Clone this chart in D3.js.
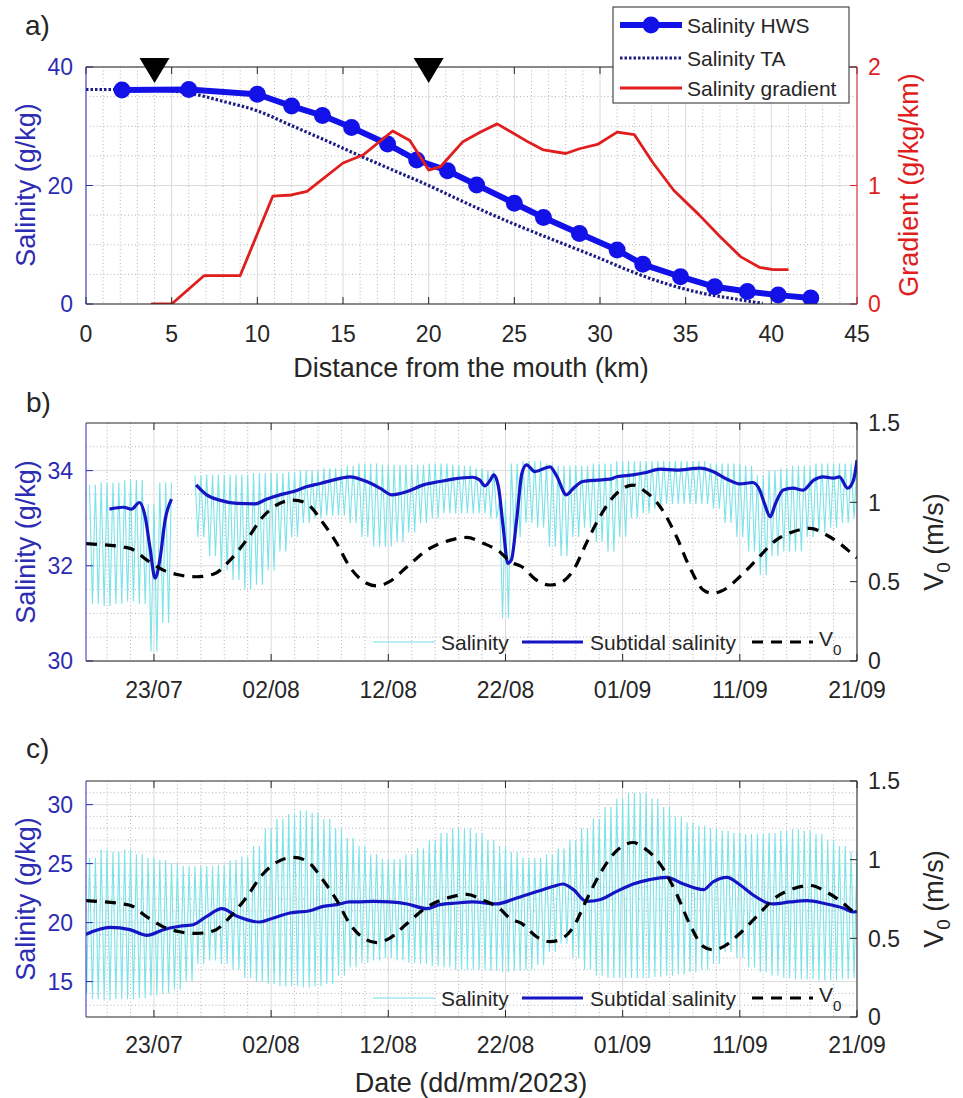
<!DOCTYPE html>
<html><head><meta charset="utf-8">
<script src="https://cdn.jsdelivr.net/npm/d3@7"></script>
<style>
body{margin:0;background:#fff;}
svg text{font-family:"Liberation Sans", Arial, Helvetica, sans-serif;}
</style></head><body>
<svg id="fig" width="963" height="1098"></svg>
<script>
// ---------------- DATA ----------------
// Panel a: along-estuary profiles
const hwsKm  = [2.1, 6.0, 10.0, 12.0, 13.8, 15.5, 17.6, 19.3, 21.1, 22.8, 25.0, 26.7, 28.8, 31.0, 32.5, 34.7, 36.7, 38.6, 40.4, 42.3];
const hwsSal = [36.1, 36.2, 35.4, 33.4, 31.8, 29.8, 27.0, 24.3, 22.5, 20.1, 17.0, 14.6, 11.9, 9.1, 6.7, 4.6, 2.9, 2.1, 1.5, 1.0];
const taKm   = [0, 2, 4, 6, 8, 10, 12, 14, 16, 18, 20, 22, 24, 26, 28, 30, 32, 34, 36, 38, 39.5];
const taSal  = [36.2, 36.2, 36.1, 35.6, 34.2, 32.6, 30.1, 27.6, 25.0, 22.5, 20.0, 17.3, 14.7, 12.3, 10.0, 7.7, 5.3, 3.3, 1.8, 0.8, 0.1];
const gradKm  = [3.8, 5.0, 6.9, 9.0, 10.9, 12.0, 12.9, 15.0, 16.2, 17.9, 18.9, 20.0, 20.7, 22.0, 23.0, 24.0, 25.9, 26.7, 28.0, 28.8, 29.9, 31.0, 32.0, 33.1, 34.3, 35.8, 37.0, 38.2, 39.3, 40.1, 41.0];
const gradVal = [0, 0, 0.24, 0.24, 0.91, 0.92, 0.95, 1.19, 1.26, 1.46, 1.38, 1.13, 1.16, 1.37, 1.45, 1.52, 1.36, 1.30, 1.27, 1.31, 1.35, 1.45, 1.43, 1.19, 0.96, 0.75, 0.57, 0.40, 0.31, 0.29, 0.29];
const markerKm  = [4, 20];
const markerSal = [39.5, 39.5];
const kmTicks = [0, 5, 10, 15, 20, 25, 30, 35, 40, 45];
const salTicksA = [0, 20, 40];
const gradTicks = [0, 1, 2];

// Time axis: day numbers counted from 1 July 2023 (23 = 23/07, 33 = 02/08, 83 = 21/09)
const dateTickLabels = ["23/07", "02/08", "12/08", "22/08", "01/09", "11/09", "21/09"];
const v0Ticks = [0, 0.5, 1, 1.5];
const v0TickLabels = ["0", "0.5", "1", "1.5"];
const salTicksB = [30, 32, 34];
const salTicksC = [15, 20, 25, 30];

// V0 (same forcing in b and c)
const v0T = [17.2, 17.8, 20.95, 22.4, 23.8, 25.2, 26.6, 28.1, 29.5, 30.9, 32.3, 33.75, 34.9, 36.0, 37.45, 38.6, 39.7, 41.15, 42.0, 43.1, 44.6, 46.3, 48.3, 49.7, 51.1, 52.5, 53.4, 54.4, 55.65, 56.8, 57.6, 58.8, 59.9, 61.05, 62.5, 63.9, 64.75, 66.2, 67.6, 68.7, 69.9, 70.7, 71.6, 73.0, 74.4, 76.1, 77.55, 79.0, 80.4, 81.5, 82.7, 83.0];
const v0V = [0.74, 0.737, 0.71, 0.636, 0.573, 0.542, 0.531, 0.548, 0.636, 0.762, 0.909, 0.994, 1.014, 0.994, 0.868, 0.742, 0.594, 0.49, 0.473, 0.50, 0.594, 0.699, 0.762, 0.779, 0.742, 0.689, 0.626, 0.594, 0.51, 0.479, 0.49, 0.573, 0.742, 0.909, 1.057, 1.109, 1.078, 0.972, 0.783, 0.594, 0.447, 0.427, 0.447, 0.531, 0.636, 0.762, 0.815, 0.836, 0.794, 0.742, 0.668, 0.65];

// Panel b: subtidal salinity (null = data gap)
const subBT = [19.2, 20.4, 21.1, 21.75, 22.25, 22.65, 23.1, 23.5, 23.95, 24.5, 25.5, 26.6, 27.5, 28.6, 30.1, 31.6, 32.6, 33.75, 34.9, 36.0, 37.2, 38.6, 39.7, 41.15, 42.3, 43.3, 44.6, 46.0, 47.4, 48.5, 50.2, 50.8, 51.25, 51.7, 52.0, 52.4, 52.8, 53.2, 53.5, 53.95, 54.4, 54.8, 55.5, 56.8, 57.4, 58.2, 58.8, 59.6, 60.8, 61.9, 62.5, 63.9, 65.0, 66.2, 67.6, 69.6, 70.7, 71.9, 73.0, 74.1, 74.7, 75.1, 75.6, 76.0, 76.7, 77.55, 78.4, 79.3, 80.1, 81.0, 81.5, 82.2, 82.7, 83.0];
const subBS = [33.19, 33.23, 33.19, 33.33, 33.03, 32.4, 31.74, 32.12, 32.96, 33.4, null, 33.70, 33.49, 33.38, 33.31, 33.30, 33.40, 33.49, 33.56, 33.66, 33.73, 33.82, 33.87, 33.77, 33.63, 33.49, 33.56, 33.70, 33.77, 33.82, 33.86, 33.80, 33.68, 33.80, 33.91, 33.66, 32.82, 32.05, 32.12, 32.96, 33.94, 34.12, 33.98, 34.08, 33.87, 33.49, 33.63, 33.77, 33.80, 33.82, 33.87, 33.91, 33.96, 34.03, 34.01, 34.05, 33.98, 33.82, 33.72, 33.75, 33.59, 33.31, 33.03, 33.28, 33.59, 33.63, 33.59, 33.80, 33.87, 33.84, 33.87, 33.63, 33.80, 34.22];

// Tidal salinity envelopes, one high/low pair per day (null = no data)
const tideDays = [17,18,19,20,21,22,23,24,25,26,27,28,29,30,31,32,33,34,35,36,37,38,39,40,41,42,43,44,45,46,47,48,49,50,51,52,53,54,55,56,57,58,59,60,61,62,63,64,65,66,67,68,69,70,71,72,73,74,75,76,77,78,79,80,81,82,83];
const tideHiB = [null,33.70,33.75,33.75,33.80,33.80,33.3,33.75,null,null,33.90,33.92,33.92,33.92,33.92,33.95,33.95,33.95,33.97,34.0,34.0,34.05,34.05,34.1,34.15,34.15,34.12,34.12,34.12,34.12,34.15,34.15,34.12,34.1,34.05,34.0,33.4,34.15,34.2,34.2,34.15,34.1,34.1,34.1,34.15,34.15,34.2,34.2,34.2,34.2,34.2,34.2,34.2,34.2,34.15,34.15,34.15,34.1,33.9,34.0,34.05,34.1,34.1,34.15,34.15,34.15,34.15];
const tideLoB = [null,31.2,31.15,31.2,31.25,31.2,30.2,30.8,null,null,32.6,32.2,31.9,31.7,31.5,31.6,31.9,32.3,32.6,32.9,33.0,33.05,33.05,32.9,32.6,32.4,32.4,32.5,32.7,32.9,33.0,33.1,33.1,33.1,33.1,33.0,30.9,32.6,32.9,32.8,32.4,32.2,32.6,32.8,32.5,32.3,32.6,33.0,33.1,33.2,33.3,33.3,33.3,33.3,33.2,32.9,32.6,32.3,31.8,32.2,32.3,32.3,32.6,32.7,32.8,32.9,33.0];
const tideHiC = [24.0,25.5,26.2,26.0,26.2,25.8,25.5,25.3,25.0,24.8,24.8,24.8,24.9,25.3,25.6,26.5,28.0,28.8,29.2,29.5,29.3,28.8,28.0,27.2,26.5,25.8,25.4,25.4,25.8,26.3,27.0,27.6,28.0,28.0,27.6,27.0,26.5,26.0,25.5,25.5,25.8,26.3,27.0,28.0,28.8,29.8,30.5,31.0,31.0,30.5,29.8,29.0,28.5,28.2,28.0,27.8,27.6,27.5,27.5,27.6,27.8,27.9,27.8,27.5,27.0,26.5,26.0];
const tideLoC = [14.0,13.5,13.4,13.5,13.5,13.6,13.8,14.0,14.3,15.0,16.5,16.8,16.5,16.0,15.3,15.0,14.8,14.6,14.6,14.5,14.6,14.8,15.5,16.2,16.6,16.8,17.0,16.8,16.6,16.5,16.3,16.2,16.0,16.0,16.0,15.9,15.8,15.9,16.0,16.4,17.5,18.2,17.0,16.0,15.5,15.3,15.3,15.3,15.3,15.4,15.5,15.6,15.8,16.0,16.5,17.5,17.0,16.2,15.8,15.5,15.3,15.2,15.2,15.1,15.1,15.2,15.3];

// Panel c: subtidal salinity
const subCT = [17.1, 19.25, 20.95, 22.4, 23.8, 25.2, 26.35, 27.5, 28.8, 30.1, 32.0, 33.2, 34.6, 36.3, 37.45, 38.6, 39.7, 40.3, 41.7, 43.1, 44.6, 46.3, 47.4, 48.8, 50.2, 52.2, 53.95, 55.9, 57.1, 57.9, 58.8, 59.9, 61.05, 62.5, 63.9, 65.3, 66.75, 68.2, 69.9, 70.7, 71.9, 73.0, 74.1, 75.8, 77.3, 78.7, 80.4, 81.8, 82.7, 83.0];
const subCS = [18.97, 19.6, 19.4, 18.92, 19.4, 19.69, 19.82, 20.53, 21.18, 20.53, 20.05, 20.39, 20.81, 21.0, 21.38, 21.52, 21.75, 21.75, 21.8, 21.75, 21.58, 21.18, 21.52, 21.66, 21.75, 21.58, 22.08, 22.7, 23.08, 23.27, 22.79, 21.8, 21.94, 22.65, 23.27, 23.64, 23.84, 23.27, 22.79, 23.44, 23.84, 23.21, 22.36, 21.58, 21.75, 21.86, 21.58, 21.24, 20.9, 20.96];

// ---------------- DRAWING ----------------
const svg = d3.select("#fig");
const L = 86, R = 857;
const DARK = "#262626", LBLUE = "#2d2db4", RED = "#e01e1e";
const HWSC = "#1212e8", SUBC = "#1515c4", CYAN = "#7be3e9", NAVY = "#1c1c85";
const TICKF = 23, LABF = 27, LEGF = 21;

function grid(g, xs, ys, xMaj, xMin, yMaj, yMin, x0, x1, y0, y1) {
  g.selectAll(null).data(xMin).join("line").attr("x1", xs).attr("x2", xs).attr("y1", y0).attr("y2", y1)
    .attr("stroke", "#b4b4b4").attr("stroke-width", 1).attr("stroke-dasharray", "1,2.5");
  g.selectAll(null).data(yMin).join("line").attr("y1", ys).attr("y2", ys).attr("x1", x0).attr("x2", x1)
    .attr("stroke", "#b4b4b4").attr("stroke-width", 1).attr("stroke-dasharray", "1,2.5");
  g.selectAll(null).data(xMaj).join("line").attr("x1", xs).attr("x2", xs).attr("y1", y0).attr("y2", y1)
    .attr("stroke", "#dadada").attr("stroke-width", 1);
  g.selectAll(null).data(yMaj).join("line").attr("y1", ys).attr("y2", ys).attr("x1", x0).attr("x2", x1)
    .attr("stroke", "#dadada").attr("stroke-width", 1);
}

function clip(id, y0, y1) {
  svg.append("clipPath").attr("id", id).append("rect").attr("x", L).attr("y", y0).attr("width", R - L).attr("height", y1 - y0);
  return "url(#" + id + ")";
}

function frame(g, xs, xTicks, xLabels, yL, yLTicks, yLLabels, yR, yRTicks, yRLabels, top, bot, colL, colR, xLabY) {
  const TL = 7;
  xTicks.forEach((v) => {
    const x = xs(v);
    g.append("line").attr("x1", x).attr("x2", x).attr("y1", bot).attr("y2", bot - TL).attr("stroke", DARK);
    g.append("line").attr("x1", x).attr("x2", x).attr("y1", top).attr("y2", top + TL).attr("stroke", DARK);
  });
  xTicks.forEach((v, i) => {
    g.append("text").attr("x", xs(v)).attr("y", xLabY).attr("text-anchor", "middle")
      .attr("font-size", TICKF).attr("fill", DARK).text(xLabels[i]);
  });
  yLTicks.forEach((v, i) => {
    const y = yL(v);
    g.append("line").attr("x1", L).attr("x2", L + TL).attr("y1", y).attr("y2", y).attr("stroke", colL);
    g.append("text").attr("x", 73).attr("y", y).attr("dy", "0.36em").attr("text-anchor", "end")
      .attr("font-size", TICKF).attr("fill", colL).text(yLLabels[i]);
  });
  yRTicks.forEach((v, i) => {
    const y = yR(v);
    g.append("line").attr("x1", R).attr("x2", R - TL).attr("y1", y).attr("y2", y).attr("stroke", colR);
    g.append("text").attr("x", 868).attr("y", y).attr("dy", "0.36em").attr("text-anchor", "start")
      .attr("font-size", TICKF).attr("fill", colR).text(yRLabels[i]);
  });
  g.append("line").attr("x1", L).attr("x2", R).attr("y1", top).attr("y2", top).attr("stroke", DARK);
  g.append("line").attr("x1", L).attr("x2", R).attr("y1", bot).attr("y2", bot).attr("stroke", DARK);
  g.append("line").attr("x1", L).attr("x2", L).attr("y1", top).attr("y2", bot).attr("stroke", colL);
  g.append("line").attr("x1", R).attr("x2", R).attr("y1", top).attr("y2", bot).attr("stroke", colR);
}

function vlabel(g, x, y, col, parts) {
  const t = g.append("text").attr("transform", `translate(${x},${y}) rotate(-90)`)
    .attr("text-anchor", "middle").attr("dy", "0.36em").attr("font-size", LABF).attr("fill", col);
  parts.forEach(p => {
    const s = t.append("tspan").text(p.t);
    if (p.sub) s.attr("font-size", LABF * 0.7).attr("dy", 7);
    if (p.after) s.attr("dy", -7);
  });
}

// ========== Panel a ==========
const gA = svg.append("g");
const TA = 67, BA = 304;
const xA = d3.scaleLinear().domain([0, 45]).range([L, R]);
const yA = d3.scaleLinear().domain([0, 40]).range([BA, TA]);
const yA2 = d3.scaleLinear().domain([0, 2]).range([BA, TA]);
grid(gA, xA, yA, kmTicks, d3.range(1, 45).filter(v => v % 5 !== 0), salTicksA, [5, 10, 15, 25, 30, 35], L, R, TA, BA);
const cA = clip("cA", TA - 20, BA);
const pA = gA.append("g").attr("clip-path", cA);
pA.append("path").datum(taKm.map((k, i) => [k, taSal[i]]))
  .attr("d", d3.line().x(d => xA(d[0])).y(d => yA(d[1])).curve(d3.curveMonotoneX))
  .attr("fill", "none").attr("stroke", NAVY).attr("stroke-width", 3.2).attr("stroke-dasharray", "2.5,2");
pA.append("path").datum(hwsKm.map((k, i) => [k, hwsSal[i]]))
  .attr("d", d3.line().x(d => xA(d[0])).y(d => yA(d[1])))
  .attr("fill", "none").attr("stroke", HWSC).attr("stroke-width", 6).attr("stroke-linejoin", "round");
pA.selectAll(null).data(hwsKm).join("circle").attr("cx", d => xA(d)).attr("cy", (d, i) => yA(hwsSal[i]))
  .attr("r", 8.5).attr("fill", HWSC);
pA.append("path").datum(gradKm.map((k, i) => [k, gradVal[i]]))
  .attr("d", d3.line().x(d => xA(d[0])).y(d => yA2(d[1])))
  .attr("fill", "none").attr("stroke", RED).attr("stroke-width", 2.8).attr("stroke-linejoin", "round");
frame(gA, xA, kmTicks, kmTicks.map(String), yA, salTicksA, salTicksA.map(String), yA2, gradTicks, gradTicks.map(String), TA, BA, LBLUE, RED, 342);
gA.selectAll(null).data(markerKm).join("path")
  .attr("d", (d, i) => { const x = xA(d), y = yA(markerSal[i]); return `M${x - 15},${y - 12}L${x + 15},${y - 12}L${x},${y + 13}Z`; })
  .attr("fill", "#000");
gA.append("text").attr("x", 471).attr("y", 377).attr("text-anchor", "middle").attr("font-size", LABF).attr("fill", DARK)
  .text("Distance from the mouth (km)");
vlabel(gA, 25, 185, LBLUE, [{ t: "Salinity (g/kg)" }]);
vlabel(gA, 908, 185, RED, [{ t: "Gradient (g/kg/km)" }]);
// legend a
const lg = gA.append("g");
lg.append("rect").attr("x", 613).attr("y", 7).attr("width", 236).attr("height", 96).attr("fill", "#fff").attr("stroke", DARK);
const rows = [25, 58, 88];
lg.append("line").attr("x1", 620).attr("x2", 682).attr("y1", rows[0]).attr("y2", rows[0]).attr("stroke", HWSC).attr("stroke-width", 6);
lg.append("circle").attr("cx", 651).attr("cy", rows[0]).attr("r", 8.5).attr("fill", HWSC);
lg.append("line").attr("x1", 620).attr("x2", 682).attr("y1", rows[1]).attr("y2", rows[1]).attr("stroke", NAVY).attr("stroke-width", 3.2).attr("stroke-dasharray", "2.5,2");
lg.append("line").attr("x1", 620).attr("x2", 682).attr("y1", rows[2]).attr("y2", rows[2]).attr("stroke", RED).attr("stroke-width", 2.8);
["Salinity HWS", "Salinity TA", "Salinity gradient"].forEach((s, i) =>
  lg.append("text").attr("x", 687).attr("y", rows[i]).attr("dy", "0.36em").attr("font-size", LEGF).attr("fill", DARK).text(s));
svg.append("text").attr("x", 25).attr("y", 35).attr("font-size", 28).attr("fill", DARK).text("a)");

// ========== Panels b & c ==========
const toDate = t => new Date(Date.UTC(2023, 6, 1) + (t - 1) * 864e5);
const parseTick = d3.utcParse("%d/%m/%Y");
const tickDates = dateTickLabels.map(s => parseTick(s + "/2023"));
const minorDates = d3.range(19, 83, 2).filter(t => (t - 23) % 10 !== 0).map(toDate);

function tidePts(hi, lo) {
  const pts = [];
  tideDays.forEach((d, i) => {
    if (hi[i] == null) { pts.push(null); return; }
    pts.push([d - 0.5, hi[i]], [d - 0.25, lo[i]], [d, hi[i]], [d + 0.25, lo[i]]);
    if (i === tideDays.length - 1 || hi[i + 1] == null) pts.push([d + 0.5, hi[i]]);
  });
  return pts;
}

function timePanel(top, bot, yDom, yTicks, yMinor, subT, subS, hi, lo, label, labelY, legY, xLabY, id) {
  const g = svg.append("g");
  const x = d3.scaleUtc().domain([toDate(17.2), toDate(83)]).range([L, R]);
  const y = d3.scaleLinear().domain(yDom).range([bot, top]);
  const y2 = d3.scaleLinear().domain([0, 1.5]).range([bot, top]);
  grid(g, x, y, tickDates, minorDates, yTicks, yMinor, L, R, top, bot);
  const p = g.append("g").attr("clip-path", clip(id, top, bot));
  p.append("path").datum(tidePts(hi, lo))
    .attr("d", d3.line().defined(d => d != null).x(d => x(toDate(d[0]))).y(d => y(d[1])))
    .attr("fill", "none").attr("stroke", CYAN).attr("stroke-width", 1.1);
  p.append("path").datum(subT.map((t, i) => [t, subS[i]]))
    .attr("d", d3.line().defined(d => d[1] != null).x(d => x(toDate(d[0]))).y(d => y(d[1])).curve(d3.curveMonotoneX))
    .attr("fill", "none").attr("stroke", SUBC).attr("stroke-width", 3.2).attr("stroke-linejoin", "round");
  p.append("path").datum(v0T.map((t, i) => [t, v0V[i]]))
    .attr("d", d3.line().x(d => x(toDate(d[0]))).y(d => y2(d[1])).curve(d3.curveMonotoneX))
    .attr("fill", "none").attr("stroke", "#000").attr("stroke-width", 3.2).attr("stroke-dasharray", "11,8");
  // legend (no box)
  g.append("line").attr("x1", 373).attr("x2", 435).attr("y1", legY).attr("y2", legY).attr("stroke", "#9fe9ec").attr("stroke-width", 1.5);
  g.append("text").attr("x", 441).attr("y", legY).attr("dy", "0.36em").attr("font-size", LEGF).attr("fill", DARK).text("Salinity");
  g.append("line").attr("x1", 522).attr("x2", 583).attr("y1", legY).attr("y2", legY).attr("stroke", SUBC).attr("stroke-width", 3.2);
  g.append("text").attr("x", 590).attr("y", legY).attr("dy", "0.36em").attr("font-size", LEGF).attr("fill", DARK).text("Subtidal salinity");
  g.append("line").attr("x1", 752).attr("x2", 813).attr("y1", legY).attr("y2", legY).attr("stroke", "#000").attr("stroke-width", 3.2).attr("stroke-dasharray", "11,8");
  const vt = g.append("text").attr("x", 819).attr("y", legY).attr("dy", "0.2em").attr("font-size", LEGF).attr("fill", DARK);
  vt.append("tspan").text("V");
  vt.append("tspan").attr("font-size", LEGF * 0.72).attr("dy", 9).text("0");
  frame(g, x, tickDates, dateTickLabels, y, yTicks, yTicks.map(String), y2, v0Ticks, v0TickLabels, top, bot, LBLUE, DARK, xLabY);
  vlabel(g, 25, (top + bot) / 2, LBLUE, [{ t: "Salinity (g/kg)" }]);
  vlabel(g, 933, (top + bot) / 2, DARK, [{ t: "V" }, { t: "0", sub: true }, { t: " (m/s)", after: true }]);
  svg.append("text").attr("x", 26).attr("y", labelY).attr("font-size", 28).attr("fill", DARK).text(label);
}

timePanel(423, 661, [30, 35], salTicksB, d3.range(30.5, 35, 0.5).filter(v => v % 2 !== 0), subBT, subBS, tideHiB, tideLoB, "b)", 412, 642, 698, "cB");
timePanel(781, 1017, [12, 32], salTicksC, d3.range(13, 32, 1).filter(v => v % 5 !== 0), subCT, subCS, tideHiC, tideLoC, "c)", 758, 998, 1053, "cC");
svg.append("text").attr("x", 471).attr("y", 1092).attr("text-anchor", "middle").attr("font-size", LABF).attr("fill", DARK).text("Date (dd/mm/2023)");
</script>
</body></html>
